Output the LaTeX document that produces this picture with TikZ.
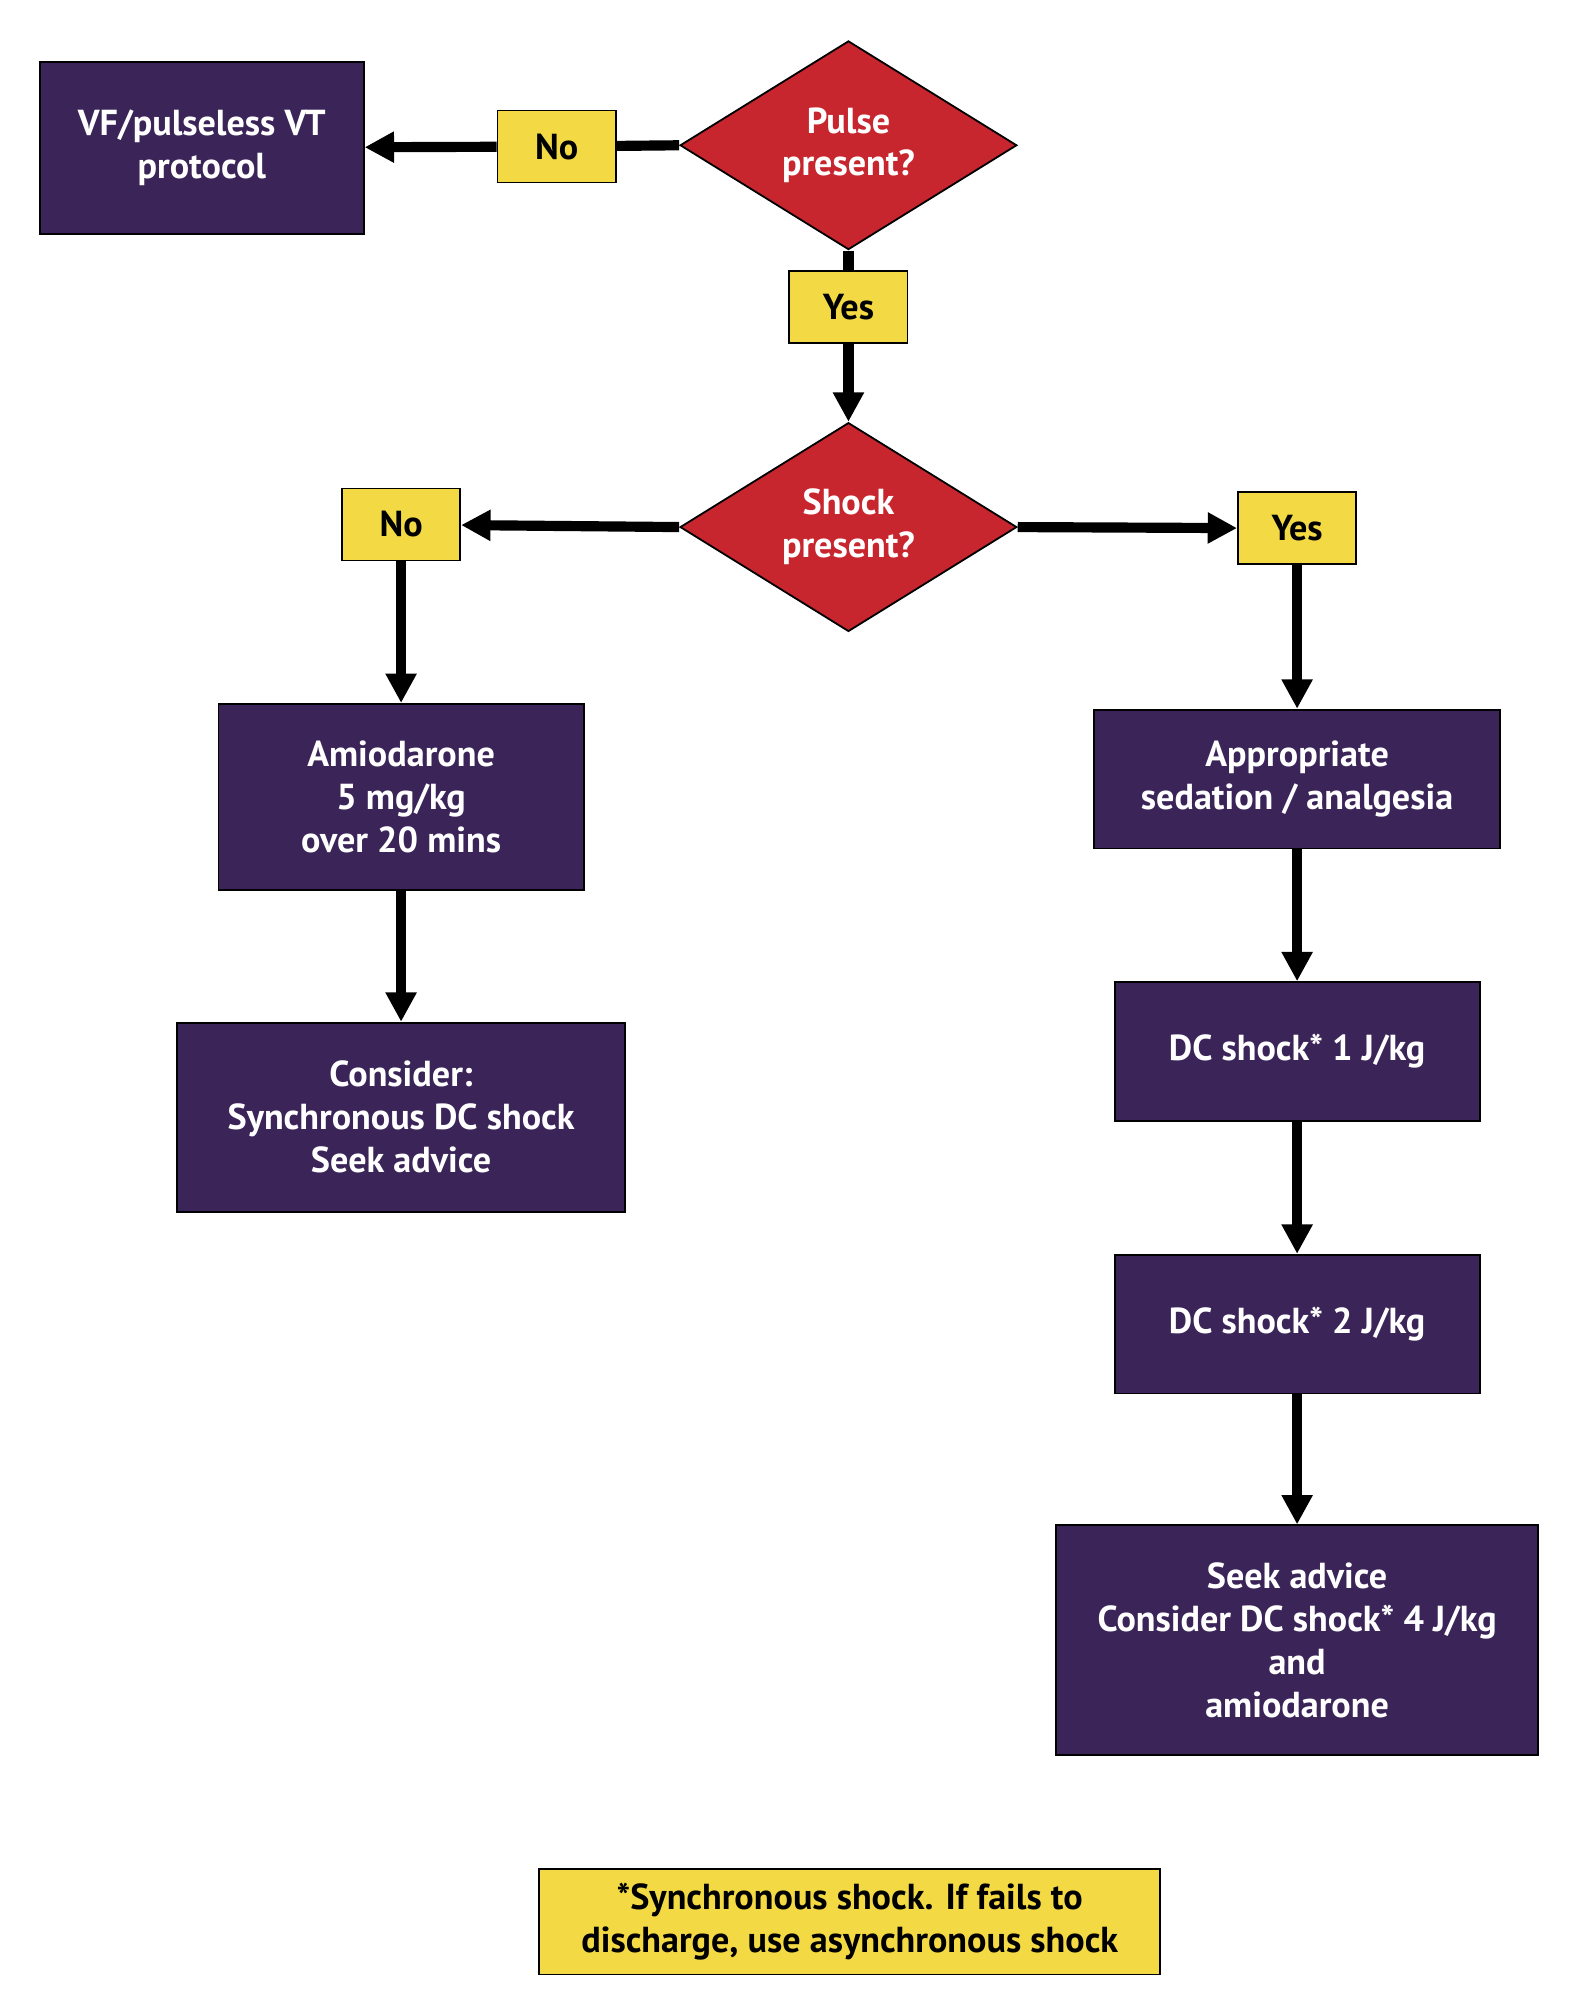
\documentclass[tikz,border=0pt]{standalone}
\usepackage{fontspec}
\setmainfont{PT Sans}
\usetikzlibrary{shapes.geometric,arrows.meta}
\definecolor{boxpurple}{HTML}{3B2458}
\definecolor{diared}{HTML}{C8262E}
\definecolor{labyellow}{HTML}{F3DA44}
\tikzset{
  base/.style={draw=black,line width=0.8pt,font=\fontsize{16}{19}\selectfont\bfseries,align=center,inner sep=0pt},
  action/.style={base,fill=boxpurple,text=white},
  test/.style={base,shape=diamond,fill=diared,text=white,minimum width=5.24cm,minimum height=2.92cm},
  tag/.style={base,fill=labyellow,text=black,minimum width=1.84cm,minimum height=1.12cm},
  flow/.style={line width=4.5pt,-{Triangle[width=13pt,length=13pt]}},
  link/.style={line width=4.5pt}
}
\begin{document}
\begin{tikzpicture}[x=0.02cm,y=-0.02cm]
\useasboundingbox (0,0) rectangle (1240,1562);
% decisions
\node[test] (pulse) at (660,113) {Pulse\\present?};
\node[test] (shock) at (660,410) {Shock\\present?};
% labels
\node[tag] (no1) at (433,114) {No};
\node[tag] (yes1) at (660,239) {Yes};
\node[tag] (no2) at (312,408) {No};
\node[tag] (yes2) at (1009,411) {Yes};
% boxes
\node[action,minimum width=5.04cm,minimum height=2.68cm] (vf) at (157,115) {VF/pulseless VT\\protocol};
\node[action,minimum width=5.68cm,minimum height=2.9cm] (amio) at (312,620) {Amiodarone\\5 mg/kg\\over 20 mins};
\node[action,minimum width=6.98cm,minimum height=2.94cm] (cons) at (312,869) {Consider:\\Synchronous DC shock\\Seek advice};
\node[action,minimum width=6.32cm,minimum height=2.16cm] (sed) at (1009,606) {Appropriate\\sedation / analgesia};
\node[action,minimum width=5.68cm,minimum height=2.16cm] (dc1) at (1009,818) {DC shock* 1 J/kg};
\node[action,minimum width=5.68cm,minimum height=2.16cm] (dc2) at (1009,1030) {DC shock* 2 J/kg};
\node[action,minimum width=7.5cm,minimum height=3.58cm] (seek) at (1009,1276) {Seek advice\\Consider DC shock* 4 J/kg\\and\\amiodarone};
\node[tag,minimum width=9.66cm,minimum height=1.64cm] (note) at (661,1495) {*Synchronous shock. If fails to\\discharge, use asynchronous shock};
% connectors
\draw[link] (pulse.west) -- (no1);
\draw[flow] (no1) -- (vf);
\draw[link] (pulse.south) -- (yes1);
\draw[flow] (yes1) -- (shock.north);
\draw[flow] (shock.west) -- (no2);
\draw[flow] (shock.east) -- (yes2);
\draw[flow] (no2) -- (amio);
\draw[flow] (amio) -- (cons);
\draw[flow] (yes2) -- (sed);
\draw[flow] (sed) -- (dc1);
\draw[flow] (dc1) -- (dc2);
\draw[flow] (dc2) -- (seek);
\end{tikzpicture}
\end{document}
